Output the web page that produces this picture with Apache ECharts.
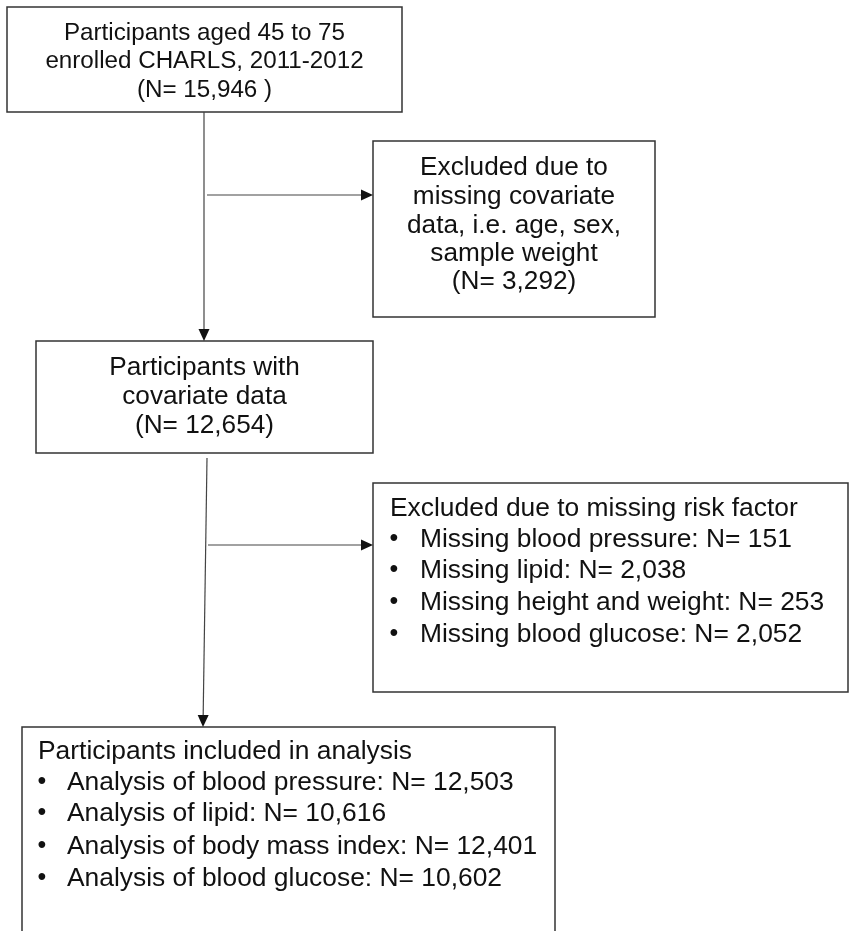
<!DOCTYPE html>
<html><head><meta charset="utf-8">
<script src="https://cdn.jsdelivr.net/npm/echarts@6/dist/echarts.min.js"></script>
<style>html,body{margin:0;padding:0;background:#fff}#c{width:851px;height:931px}</style>
</head><body><div id="c"></div>
<script>
// ---- data (texts and counts) ----
const startLines = ['Participants aged 45 to 75', 'enrolled CHARLS, 2011-2012'];
const startN = 15946;
const exclusion1Lines = ['Excluded due to', 'missing covariate', 'data, i.e. age, sex,', 'sample weight'];
const exclusion1N = 3292;
const covariateLines = ['Participants with', 'covariate data'];
const covariateN = 12654;
const exclusion2Title = 'Excluded due to missing risk factor';
const riskFactors = ['blood pressure', 'lipid', 'height and weight', 'blood glucose'];
const riskMissingN = [151, 2038, 253, 2052];
const analysisTitle = 'Participants included in analysis';
const analysisItems = ['blood pressure', 'lipid', 'body mass index', 'blood glucose'];
const analysisN = [12503, 10616, 12401, 10602];

const fmt = n => n.toLocaleString('en-US');

// ---- box contents built from data ----
const boxContents = [
  { lines: [...startLines, '(N= ' + fmt(startN) + ' )'] },
  { lines: [...exclusion1Lines, '(N= ' + fmt(exclusion1N) + ')'] },
  { lines: [...covariateLines, '(N= ' + fmt(covariateN) + ')'] },
  { title: exclusion2Title, items: riskFactors.map((r, i) => 'Missing ' + r + ': N= ' + fmt(riskMissingN[i])) },
  { title: analysisTitle, items: analysisItems.map((r, i) => 'Analysis of ' + r + ': N= ' + fmt(analysisN[i])) }
];

// ---- layout (positions/sizes, separate from data) ----
const boxLayout = [
  { rect: [7, 7, 402, 112], cx: 204.5, font: 24.2, ys: [33.5, 61.5, 90] },
  { rect: [373, 141, 655, 317], cx: 514, font: 26.2, ys: [168, 197, 225.5, 254, 282] },
  { rect: [36, 341, 373, 453], cx: 204.5, font: 26.2, ys: [368, 397, 426] },
  { rect: [373, 483, 848, 692], titleX: 390, bulletX: 394, textX: 420, font: 26.4, ys: [509, 540, 571, 603, 635] },
  { rect: [22, 727, 555, 940], titleX: 38, bulletX: 42, textX: 67, font: 26.4, ys: [752, 783, 814, 847, 879] }
];
const arrowLayout = [
  [204, 112, 204, 341],
  [207, 195, 373, 195],
  [207, 458, 203, 727],
  [208, 545, 373, 545]
];

const FONT = '"Liberation Sans", Arial, Helvetica, sans-serif';

function textEl(x, y, str, size, align) {
  return { type: 'text', x: x, y: y, style: { text: str, fill: '#111', font: size + 'px ' + FONT, align: align, verticalAlign: 'middle' } };
}

const chart = echarts.init(document.getElementById('c'), null, { renderer: 'canvas' });
chart.setOption({
  animation: false,
  backgroundColor: '#fff',
  grid: { left: 0, right: 0, top: 0, bottom: 0 },
  xAxis: { type: 'value', min: 0, max: 851, show: false },
  yAxis: { type: 'value', min: 0, max: 931, inverse: true, show: false },
  series: [
    {
      type: 'custom',
      coordinateSystem: 'cartesian2d',
      encode: { x: [0, 2], y: [1, 3] },
      data: boxLayout.map(b => b.rect),
      renderItem: function (params, api) {
        const i = params.dataIndex;
        const L = boxLayout[i], C = boxContents[i];
        const p0 = api.coord([api.value(0), api.value(1)]);
        const p1 = api.coord([api.value(2), api.value(3)]);
        const children = [{
          type: 'rect',
          shape: { x: p0[0], y: p0[1], width: p1[0] - p0[0], height: p1[1] - p0[1] },
          style: { fill: '#fff', stroke: '#333', lineWidth: 1.5 }
        }];
        if (C.lines) {
          C.lines.forEach((s, k) => {
            const pt = api.coord([L.cx, L.ys[k]]);
            children.push(textEl(pt[0], pt[1], s, L.font, 'center'));
          });
        } else {
          const t = api.coord([L.titleX, L.ys[0]]);
          children.push(textEl(t[0], t[1], C.title, L.font, 'left'));
          C.items.forEach((s, k) => {
            const b = api.coord([L.bulletX, L.ys[k + 1]]);
            const tx = api.coord([L.textX, L.ys[k + 1]]);
            children.push(textEl(b[0], b[1] - 1, '\u2022', 25, 'center'));
            children.push(textEl(tx[0], tx[1], s, L.font, 'left'));
          });
        }
        return { type: 'group', children: children };
      }
    },
    {
      type: 'custom',
      coordinateSystem: 'cartesian2d',
      encode: { x: [0, 2], y: [1, 3] },
      data: arrowLayout,
      renderItem: function (params, api) {
        const p0 = api.coord([api.value(0), api.value(1)]);
        const p1 = api.coord([api.value(2), api.value(3)]);
        const dx = p1[0] - p0[0], dy = p1[1] - p0[1];
        const len = Math.hypot(dx, dy), ux = dx / len, uy = dy / len;
        const al = 12, hw = 5.5;
        const bx = p1[0] - ux * al, by = p1[1] - uy * al;
        return {
          type: 'group', children: [
            { type: 'line', shape: { x1: p0[0], y1: p0[1], x2: bx, y2: by }, style: { stroke: '#444', lineWidth: 1.2 } },
            { type: 'polygon', shape: { points: [[p1[0], p1[1]], [bx - uy * hw, by + ux * hw], [bx + uy * hw, by - ux * hw]] }, style: { fill: '#111' } }
          ]
        };
      }
    }
  ]
});
</script>
</body></html>
